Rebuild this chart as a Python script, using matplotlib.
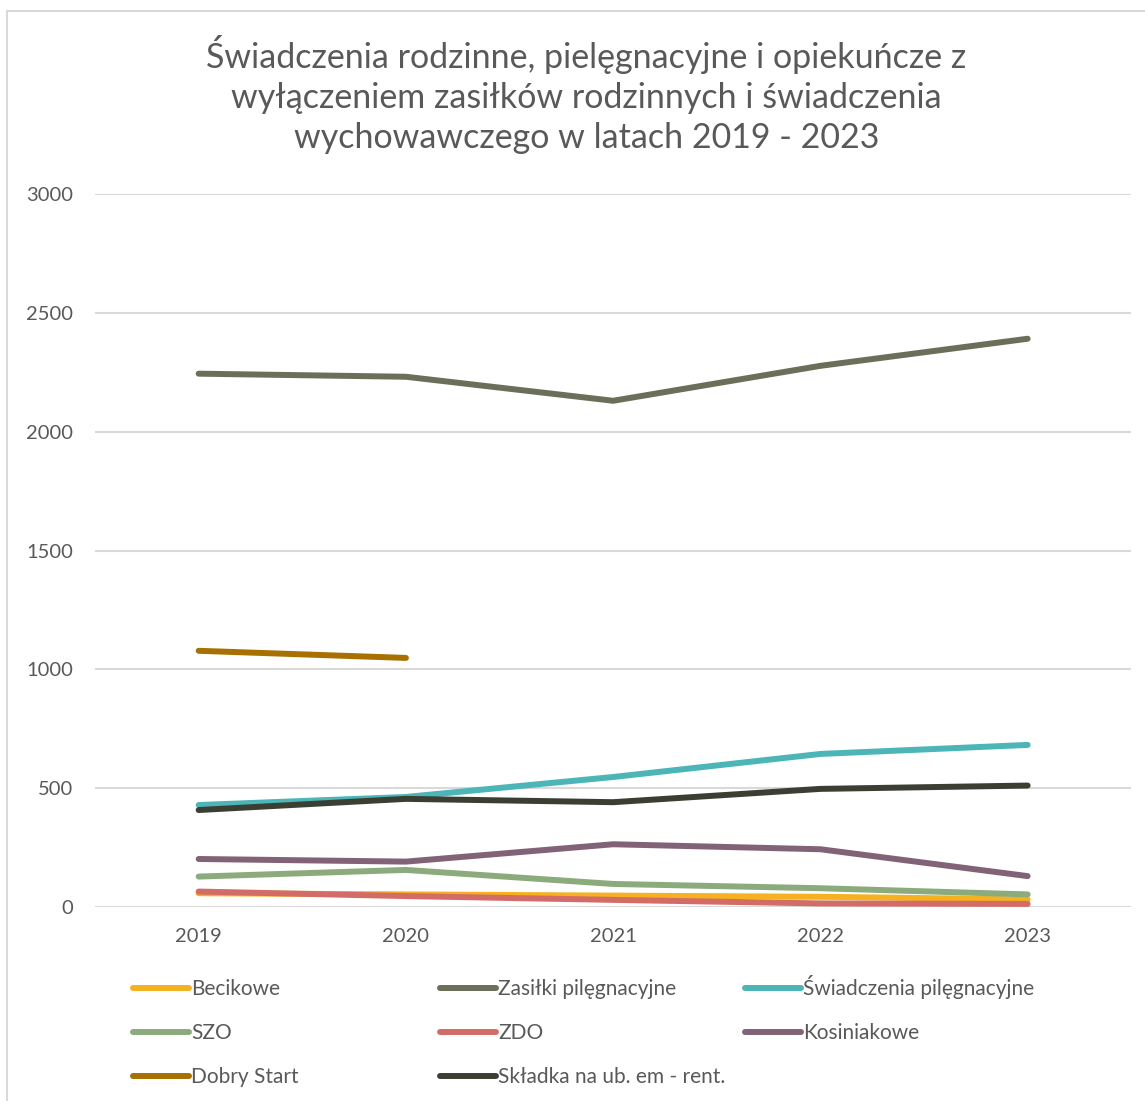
import numpy as np
import matplotlib.pyplot as plt
from matplotlib.lines import Line2D

plt.rcParams['font.family'] = ['Lato', 'DejaVu Sans']

years = ['2019', '2020', '2021', '2022', '2023']

becikowe = [58, 53, 48, 43, 32]
zasilki_piel = [2244, 2231, 2130, 2277, 2391]
swiadczenia_piel = [429, 463, 547, 644, 682]
szo = [128, 156, 97, 79, 53]
zdo = [65, 46, 30, 15, 13]
kosiniakowe = [202, 191, 264, 243, 130]
dobry_start = [1078, 1048, np.nan, np.nan, np.nan]
skladka = [408, 455, 441, 497, 511]

series = [
    ('Becikowe', becikowe, '#F5B120'),
    ('Zasiłki pilęgnacyjne', zasilki_piel, '#6B6F5A'),
    ('Świadczenia pilęgnacyjne', swiadczenia_piel, '#4BB5B8'),
    ('SZO', szo, '#8CAB7D'),
    ('ZDO', zdo, '#D36C67'),
    ('Kosiniakowe', kosiniakowe, '#826276'),
    ('Dobry Start', dobry_start, '#A87000'),
    ('Składka na ub. em - rent.', skladka, '#3B3F33'),
]

W, H = 1145, 1101
fig = plt.figure(figsize=(W / 100, H / 100), dpi=100)
ax = fig.add_axes([0.083, 0.1762, 0.905, 0.6476])

x = np.arange(len(years))
for name, vals, col in series:
    ax.plot(x, vals, color=col, lw=4.3, solid_capstyle='round',
            solid_joinstyle='round', label=name)

ax.set_xlim(-0.5, 4.5)
ax.set_ylim(0, 3000)
ax.set_yticks(range(0, 3001, 500))
ax.set_xticks(x)
ax.set_xticklabels(years)
ax.grid(axis='y', color='#D9D9D9', lw=1.5)
ax.set_axisbelow(True)
for s in ax.spines.values():
    s.set_visible(False)
ax.tick_params(length=0, labelsize=14.5, colors='#595959')
ax.tick_params(axis='y', pad=16)
ax.tick_params(axis='x', pad=15)

fig.text(0.512, 0.968, 'Świadczenia rodzinne, pielęgnacyjne i opiekuńcze z\n'
         'wyłączeniem zasiłków rodzinnych i świadczenia\n'
         'wychowawczego w latach 2019 - 2023',
         ha='center', va='top', fontsize=24.5, color='#595959', linespacing=1.3)

# legend: 3 columns, filled row by row (Excel style, equal rows)
col_px = [133, 440, 745]
row_px = [988, 1032, 1076]
for i, (name, vals, col) in enumerate(series):
    lx = col_px[i % 3]
    ly = 1 - row_px[i // 3] / H
    fig.add_artist(Line2D([lx / W, (lx + 56) / W], [ly, ly], color=col,
                          lw=4.3, solid_capstyle='round'))
    fig.text((lx + 58) / W, ly - 7 / H, name, ha='left', va='baseline',
             fontsize=15, color='#595959')

# outer frame
fig.add_artist(Line2D([0.006, 0.006], [0, 0.99], color='#D9D9D9', lw=1.5))
fig.add_artist(Line2D([0.006, 1.0], [0.99, 0.99], color='#D9D9D9', lw=1.5))

plt.savefig('out.png', dpi=100)
